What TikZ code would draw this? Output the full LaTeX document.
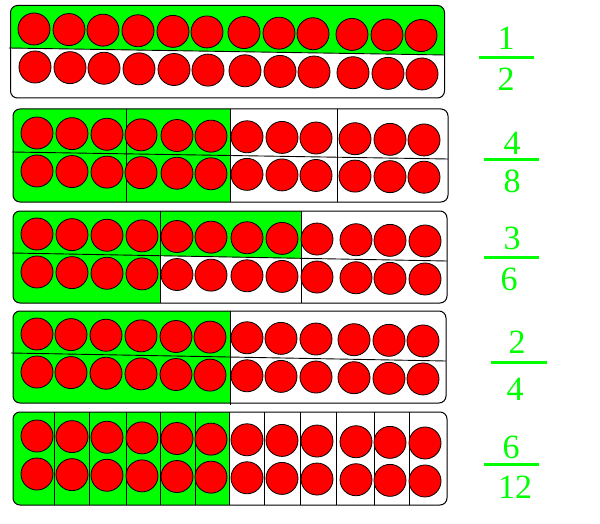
\documentclass[tikz,border=0pt]{standalone}
\usepackage{fontspec}
\setmainfont{Liberation Serif}
\definecolor{gr}{RGB}{0,255,0}
\definecolor{rd}{RGB}{255,0,0}
\begin{document}
\begin{tikzpicture}[x=1pt,y=-1pt,
  dot/.style={circle,draw=black,fill=rd,line width=0.8pt,minimum size=32pt,inner sep=0pt},
  panel/.style={draw=black,line width=1pt,rounded corners=7pt},
  divider/.style={draw=black,line width=0.9pt},
  frac/.style={text=gr,font=\fontsize{34}{34}\selectfont,anchor=base,inner sep=0pt},
  fracbar/.style={fill=gr,inner sep=0pt,minimum height=3pt}]
\useasboundingbox (0,0) rectangle (600,524);

% ---------- Panel 1 : 1/2 ----------
\fill[white,rounded corners=7pt] (10.5,5.5) rectangle (444.5,98);
\begin{scope}
  \clip[rounded corners=7pt] (10.5,5.5) rectangle (444.5,98);
  \fill[gr] (5,0) -- (450,0) -- (450,55) -- (5,48) -- cycle;
\end{scope}
\draw[divider] (9,48) -- (445,55);
\foreach \x [count=\i] in {34,69,103,138,173,207,244,279,313,352,387,421} {
  \node[dot] (p1a\i) at (\x,{29+0.017*(\x-34)}) {};
  \node[dot] (p1b\i) at (\x+1,{67+0.018*(\x-34)}) {};
}
\draw[panel] (10.5,5.5) rectangle (444.5,98);

% ---------- Panel 2 : 4/8 ----------
\fill[white,rounded corners=7pt] (13,109) rectangle (448,202);
\begin{scope}
  \clip[rounded corners=7pt] (13,109) rectangle (448,202);
  \fill[gr] (0,100) rectangle (230,210);
\end{scope}
\draw[divider] (12,152) -- (448,159);
\draw[divider] (126,109) -- (126,202);
\draw[divider] (230,109) -- (230,202);
\draw[divider] (337,109) -- (337,202);
\foreach \x [count=\i] in {37,72,107,141,177,211,247,282,316,355,390,424} {
  \node[dot] (p2a\i) at (\x,{133+0.018*(\x-37)}) {};
  \node[dot] (p2b\i) at (\x,{171+0.016*(\x-37)}) {};
}
\draw[panel] (13,109) rectangle (448,202);

% ---------- Panel 3 : 3/6 ----------
\fill[white,rounded corners=7pt] (13,211) rectangle (447,303);
\begin{scope}
  \clip[rounded corners=7pt] (13,211) rectangle (447,303);
  \fill[gr] (0,200) -- (301,200) -- (301,258.5) -- (0,253) -- cycle;
  \fill[gr] (0,250) rectangle (161,310);
\end{scope}
\draw[divider] (12,253) -- (447,261);
\draw[divider] (160,211) -- (160,303);
\draw[divider] (301,211) -- (301,303);
\foreach \x [count=\i] in {37,72,107,142,177,211,247,282,317,356,390,425} {
  \node[dot] (p3a\i) at (\x,{234+0.018*(\x-37)}) {};
  \node[dot] (p3b\i) at (\x,{272+0.018*(\x-37)}) {};
}
\draw[panel] (13,211) rectangle (447,303);

% ---------- Panel 4 : 2/4 ----------
\fill[white,rounded corners=7pt] (13,311) rectangle (446,403);
\begin{scope}
  \clip[rounded corners=7pt] (13,311) rectangle (446,403);
  \fill[gr] (0,300) rectangle (230,410);
\end{scope}
\draw[divider] (11,353) -- (446,361);
\draw[divider] (230,311) -- (230,404.5);
\foreach \x [count=\i] in {37,71,106,141,176,210,247,281,316,354,389,423} {
  \node[dot] (p4a\i) at (\x,{334+0.018*(\x-37)}) {};
  \node[dot] (p4b\i) at (\x,{372+0.018*(\x-37)}) {};
}
\draw[panel] (13,311) rectangle (446,403);

% ---------- Panel 5 : 6/12 ----------
\fill[white,rounded corners=7pt] (13,412) rectangle (447,505);
\begin{scope}
  \clip[rounded corners=7pt] (13,412) rectangle (447,505);
  \fill[gr] (0,400) rectangle (229,510);
\end{scope}
\foreach \x in {54,89,126,160,195,229,264,300,336,374,409} {
  \draw[divider] (\x,412) -- (\x,505);
}
\foreach \x [count=\i] in {37,72,107,142,177,211,247,282,317,356,390,425} {
  \node[dot] (p5a\i) at (\x,{436+0.018*(\x-37)}) {};
  \node[dot] (p5b\i) at (\x,{474+0.018*(\x-37)}) {};
}
\draw[panel] (13,412) rectangle (447,505);

% ---------- Fractions ----------
\node[frac] (n1) at (506,50) {1};
\node[fracbar,minimum width=55pt] (b1) at (506.5,58) {};
\node[frac] (d1) at (506,91) {2};

\node[frac] (n2) at (512,155) {4};
\node[fracbar,minimum width=55pt] (b2) at (511.5,160) {};
\node[frac] (d2) at (512,193) {8};

\node[frac] (n3) at (512,249) {3};
\node[fracbar,minimum width=55pt] (b3) at (511.5,257) {};
\node[frac] (d3) at (509,290) {6};

\node[frac] (n4) at (517,353) {2};
\node[fracbar,minimum width=56pt] (b4) at (519,362) {};
\node[frac] (d4) at (515,400) {4};

\node[frac] (n5) at (511,458) {6};
\node[fracbar,minimum width=55pt] (b5) at (511.5,464) {};
\node[frac] (d5) at (515,498) {12};
\end{tikzpicture}
\end{document}
